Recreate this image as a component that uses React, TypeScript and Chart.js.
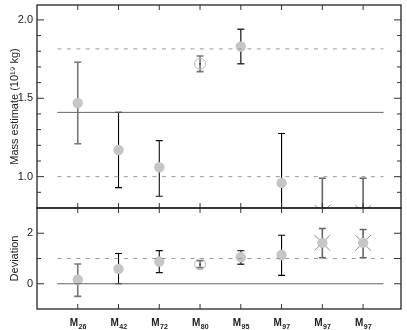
import React, { useEffect, useRef } from 'react';
import { Chart, registerables } from 'chart.js';

Chart.register(...registerables);

// ---------- data ----------
const categoryMain = ['M', 'M', 'M', 'M', 'M', 'M', 'M', 'M'];
const categorySub = ['26', '42', '72', '80', '95', '97', '97', '97'];
const markerStyles = ['filled', 'filled', 'filled', 'open', 'filled', 'filled', 'cross', 'cross'];

const massValues = [1.47, 1.17, 1.06, 1.72, 1.83, 0.96, 0.77, 0.77];
const massLow = [1.21, 0.93, 0.875, 1.67, 1.72, 0.6, 0.55, 0.55];
const massHigh = [1.73, 1.41, 1.23, 1.77, 1.94, 1.275, 0.99, 0.99];

const devValues = [0.16, 0.59, 0.88, 0.77, 1.05, 1.14, 1.62, 1.62];
const devLow = [-0.5, 0.0, 0.44, 0.64, 0.77, 0.33, 1.03, 1.03];
const devHigh = [0.78, 1.2, 1.31, 0.91, 1.31, 1.92, 2.19, 2.15];

const massRefSolid = [1.41];
const massRefDashed = [1.0, 1.815];
const devRefSolid = [0];
const devRefDashed = [1];

const massMajorTicks = [1.0, 1.5, 2.0];
const massTickLabels = ['1.0', '1.5', '2.0'];
const massMinorTicks = [0.9, 1.1, 1.2, 1.3, 1.4, 1.6, 1.7, 1.8, 1.9];
const devMajorTicks = [0, 2];
const devTickLabels = ['0', '2'];
const devMinorTicks = [1];
const devRightMajor = [0, 1, 2];

const barColors = ['#777', '#000', '#111', '#777', '#333', '#000', '#666', '#666'];
const barWidths = [1.6, 1.1, 1.1, 1.6, 1.4, 1.1, 1.6, 1.6];

const FONT = '"Liberation Sans", Arial, Helvetica, sans-serif';

type PanelCfg = {
  values: number[];
  low: number[];
  high: number[];
  solid: number[];
  dashed: number[];
  yMin: number;
  yMax: number;
  major: number[];
  majorLabels: string[];
  minor: number[];
  rightMajor: number[];
  title: string;
  showX: boolean;
  padding: { left: number; right: number; top: number; bottom: number };
};

function makePlugin(cfg: PanelCfg) {
  return {
    id: 'panelDecor',
    beforeDatasetsDraw(chart: any) {
      const { ctx, chartArea: a } = chart;
      const xs = chart.scales.x;
      const ys = chart.scales.y;
      ctx.save();
      ctx.beginPath();
      ctx.rect(a.left, a.top, a.right - a.left, a.bottom - a.top);
      ctx.clip();
      cfg.values.forEach((_, i) => {
        const x = xs.getPixelForValue(i);
        const yl = ys.getPixelForValue(cfg.low[i]);
        const yh = ys.getPixelForValue(cfg.high[i]);
        ctx.strokeStyle = barColors[i];
        ctx.lineWidth = barWidths[i];
        ctx.beginPath();
        ctx.moveTo(x, yl);
        ctx.lineTo(x, yh);
        ctx.moveTo(x - 3.5, yl);
        ctx.lineTo(x + 3.5, yl);
        ctx.moveTo(x - 3.5, yh);
        ctx.lineTo(x + 3.5, yh);
        ctx.stroke();
      });
      ctx.restore();
    },
    afterDraw(chart: any) {
      const { ctx, chartArea: a } = chart;
      const xs = chart.scales.x;
      const ys = chart.scales.y;
      ctx.save();
      ctx.strokeStyle = '#111';
      ctx.lineWidth = 1.2;
      ctx.strokeRect(a.left, a.top, a.right - a.left, a.bottom - a.top);
      ctx.lineWidth = 1;
      ctx.strokeStyle = '#333';
      ctx.beginPath();
      // x ticks
      categorySub.forEach((_, i) => {
        const x = xs.getPixelForValue(i);
        ctx.moveTo(x, a.top);
        ctx.lineTo(x, a.top + 5);
        ctx.moveTo(x, a.bottom);
        ctx.lineTo(x, a.bottom - 5);
      });
      // y major ticks
      cfg.major.forEach((v) => {
        const y = ys.getPixelForValue(v);
        ctx.moveTo(a.left, y);
        ctx.lineTo(a.left + 7, y);
      });
      cfg.rightMajor.forEach((v) => {
        const y = ys.getPixelForValue(v);
        ctx.moveTo(a.right, y);
        ctx.lineTo(a.right - 7, y);
      });
      cfg.minor.forEach((v) => {
        const y = ys.getPixelForValue(v);
        ctx.moveTo(a.left, y);
        ctx.lineTo(a.left + 4, y);
        if (!cfg.rightMajor.includes(v)) {
          ctx.moveTo(a.right, y);
          ctx.lineTo(a.right - 4, y);
        }
      });
      ctx.stroke();

      // y tick labels
      ctx.fillStyle = '#222';
      ctx.font = `11px ${FONT}`;
      ctx.textAlign = 'right';
      ctx.textBaseline = 'middle';
      cfg.major.forEach((v, i) => {
        ctx.fillText(cfg.majorLabels[i], a.left - 4, ys.getPixelForValue(v));
      });

      // axis title
      ctx.save();
      ctx.translate(15, (a.top + a.bottom) / 2);
      ctx.rotate(-Math.PI / 2);
      ctx.textAlign = 'center';
      ctx.textBaseline = 'middle';
      ctx.font = `11px ${FONT}`;
      ctx.fillText(cfg.title, 0, 0);
      ctx.restore();

      // x labels
      if (cfg.showX) {
        categorySub.forEach((sub, i) => {
          const x = xs.getPixelForValue(i);
          ctx.font = `bold 10px ${FONT}`;
          const wm = ctx.measureText(categoryMain[i]).width;
          ctx.font = `bold 7px ${FONT}`;
          const ws = ctx.measureText(sub).width;
          const start = x - (wm + ws) / 2;
          ctx.textAlign = 'left';
          ctx.textBaseline = 'alphabetic';
          ctx.font = `bold 10px ${FONT}`;
          ctx.fillText(categoryMain[i], start, a.bottom + 17);
          ctx.font = `bold 7px ${FONT}`;
          ctx.fillText(sub, start + wm + 0.5, a.bottom + 19.5);
        });
      }
      ctx.restore();
    },
  };
}

function buildConfig(cfg: PanelCfg): any {
  const pts = cfg.values.map((v, i) => ({ x: i, y: v }));
  const refLine = (v: number, dashed: boolean) => ({
    type: 'line',
    data: [
      { x: -0.5, y: v },
      { x: 7.5, y: v },
    ],
    borderColor: dashed ? '#9a9a9a' : '#666',
    borderWidth: 1,
    borderDash: dashed ? [4, 5.5] : [],
    pointRadius: 0,
    showLine: true,
    clip: 0,
  });
  const datasets: any[] = [
    ...cfg.solid.map((v) => refLine(v, false)),
    ...cfg.dashed.map((v) => refLine(v, true)),
    {
      data: pts.filter((_, i) => markerStyles[i] !== 'open'),
      pointRadius: 5.2,
      pointBackgroundColor: '#c6c6c6',
      pointBorderWidth: 0,
      pointBorderColor: 'rgba(0,0,0,0)',
      clip: 0,
    },
    {
      data: pts.filter((_, i) => markerStyles[i] === 'open'),
      pointRadius: 5.5,
      pointBackgroundColor: 'rgba(0,0,0,0)',
      pointBorderColor: '#b8b8b8',
      pointBorderWidth: 1,
      clip: 0,
    },
    {
      data: pts.filter((_, i) => markerStyles[i] === 'cross'),
      pointStyle: 'crossRot',
      pointRadius: 11,
      pointBorderColor: '#8a8a8a',
      pointBorderWidth: 1,
      clip: 0,
    },
    {
      data: pts,
      pointRadius: 0.9,
      pointBackgroundColor: '#333',
      pointBorderWidth: 0,
      clip: 0,
    },
  ];
  return {
    type: 'scatter',
    data: { datasets },
    options: {
      animation: false,
      responsive: false,
      maintainAspectRatio: false,
      events: [],
      layout: { padding: cfg.padding, autoPadding: false },
      scales: {
        x: { type: 'linear', min: -1, max: 7.93, display: false },
        y: { type: 'linear', min: cfg.yMin, max: cfg.yMax, display: false },
      },
      plugins: { legend: { display: false }, tooltip: { enabled: false } },
    },
    plugins: [makePlugin(cfg)],
  };
}

const topCfg: PanelCfg = {
  values: massValues,
  low: massLow,
  high: massHigh,
  solid: massRefSolid,
  dashed: massRefDashed,
  yMin: 0.8,
  yMax: 2.095,
  major: massMajorTicks,
  majorLabels: massTickLabels,
  minor: massMinorTicks,
  rightMajor: massMajorTicks,
  title: 'Mass estimate (10¹⁹ kg)',
  showX: false,
  padding: { left: 37, right: 6, top: 5, bottom: 3 },
};

const botCfg: PanelCfg = {
  values: devValues,
  low: devLow,
  high: devHigh,
  solid: devRefSolid,
  dashed: devRefDashed,
  yMin: -1,
  yMax: 3,
  major: devMajorTicks,
  majorLabels: devTickLabels,
  minor: devMinorTicks,
  rightMajor: devRightMajor,
  title: 'Deviation',
  showX: true,
  padding: { left: 37, right: 6, top: 8, bottom: 21 },
};

export default function App() {
  const topRef = useRef<HTMLCanvasElement>(null);
  const botRef = useRef<HTMLCanvasElement>(null);
  useEffect(() => {
    const c1 = new Chart(topRef.current as HTMLCanvasElement, buildConfig(topCfg));
    const c2 = new Chart(botRef.current as HTMLCanvasElement, buildConfig(botCfg));
    return () => {
      c1.destroy();
      c2.destroy();
    };
  }, []);
  return (
    <div style={{ position: 'fixed', left: 0, top: 0, width: 407, height: 330, background: '#fff' }}>
      <canvas ref={topRef} width={407} height={211} style={{ position: 'absolute', left: 0, top: 0, width: 407, height: 211 }} />
      <canvas ref={botRef} width={407} height={130} style={{ position: 'absolute', left: 0, top: 200, width: 407, height: 130 }} />
    </div>
  );
}
